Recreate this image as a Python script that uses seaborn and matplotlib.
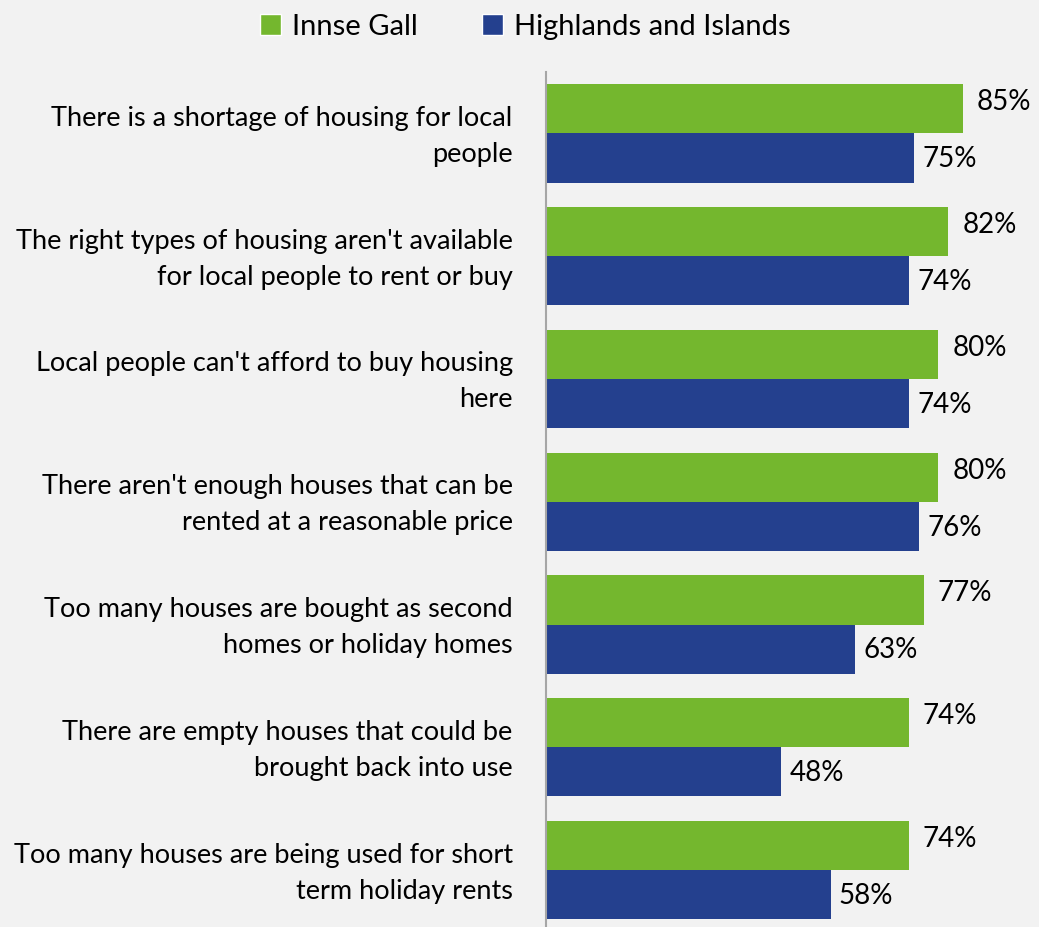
import matplotlib
matplotlib.use("Agg")
import matplotlib.pyplot as plt
from matplotlib.patches import Patch
import matplotlib.transforms as mtransforms
import seaborn as sns
import pandas as pd

statements = [
    "There is a shortage of housing for local\npeople",
    "The right types of housing aren't available\nfor local people to rent or buy",
    "Local people can't afford to buy housing\nhere",
    "There aren't enough houses that can be\nrented at a reasonable price",
    "Too many houses are bought as second\nhomes or holiday homes",
    "There are empty houses that could be\nbrought back into use",
    "Too many houses are being used for short\nterm holiday rents",
]
innse_gall = [85, 82, 80, 80, 77, 74, 74]
highlands = [75, 74, 74, 76, 63, 48, 58]
series = ["Innse Gall", "Highlands and Islands"]
colors = ["#74B72E", "#24408E"]

df = pd.DataFrame({
    "statement": statements * 2,
    "value": innse_gall + highlands,
    "area": [series[0]] * len(statements) + [series[1]] * len(statements),
})

sns.set_theme(style="white")
plt.rcParams["font.family"] = ["Lato", "DejaVu Sans"]
plt.rcParams["text.color"] = "black"
plt.rcParams["ytick.color"] = "black"
bg = "#F2F2F2"

fig = plt.figure(figsize=(10.39, 9.27), dpi=100, facecolor=bg)
ax = fig.add_axes([546 / 1039, 0.0, (1036.6 - 546) / 1039, 1 - 72 / 927])
ax.set_facecolor(bg)

sns.barplot(data=df, x="value", y="statement", hue="area", orient="h",
            palette=colors, hue_order=series, width=0.8, ax=ax,
            legend=False, saturation=1, linewidth=0)

ax.set_xlim(0, 100)
ax.set_ylim(6.5 - 4.5 / 123, -0.5)
ax.set_xlabel("")
ax.set_ylabel("")
ax.set_xticks([])
ax.tick_params(axis="y", length=0, pad=24, labelsize=19.5)
# nudge the category labels up a few pixels
shift = mtransforms.ScaledTranslation(0, 5 / 100, fig.dpi_scale_trans)
for lbl in ax.get_yticklabels():
    lbl.set_linespacing(1.55)
    lbl.set_transform(lbl.get_transform() + shift)
for side in ["top", "right", "bottom"]:
    ax.spines[side].set_visible(False)
ax.spines["left"].set_color("#A6A6A6")
ax.spines["left"].set_linewidth(1.5)

# value labels: green ones sit a little high and further out, blue ones closer
for cont, (dx, dy) in zip(ax.containers, [(10, 4.7), (6, -1)]):
    for bar in cont:
        w = bar.get_width()
        ax.annotate(f"{w:.0f}%", (w, bar.get_y() + bar.get_height() / 2),
                    xytext=(dx, dy), textcoords="offset points",
                    ha="left", va="center", fontsize=20, color="black")

handles = [Patch(facecolor=c, label=s) for c, s in zip(colors, series)]
fig.legend(handles=handles, loc="center", bbox_to_anchor=(0.506, 0.971),
           ncol=2, frameon=False, fontsize=21, handlelength=0.7,
           handleheight=0.7, handletextpad=0.4, columnspacing=2.2)

fig.savefig("out.png", dpi=100, facecolor=bg)
